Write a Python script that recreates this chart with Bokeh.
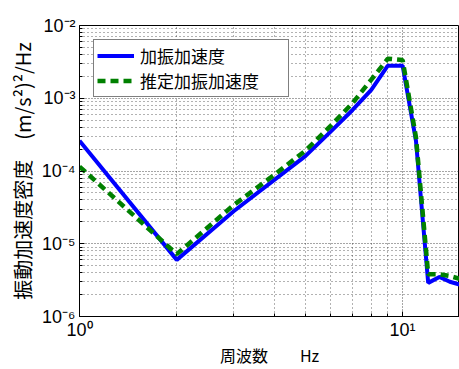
from bokeh.plotting import figure
from bokeh.models import FixedTicker, CustomJSTickFormatter, Legend, LegendItem, Range1d
from bokeh.embed import file_html
from bokeh.resources import INLINE

# data
freq = [1, 2, 3, 4, 5, 6, 7, 8, 9, 10, 11, 12, 13, 14, 15]
psd_meas = [2.6e-4, 6.0e-6, 2.8e-5, 7.5e-5, 1.6e-4, 3.5e-4, 6.9e-4, 1.3e-3,
            2.8e-3, 2.8e-3, 2.6e-4, 2.9e-6, 3.5e-6, 3.0e-6, 2.75e-6]
psd_est = [1.15e-4, 7.2e-6, 3.4e-5, 8.8e-5, 1.9e-4, 4.2e-4, 8.6e-4, 1.8e-3,
           3.5e-3, 3.35e-3, 2.9e-4, 3.8e-6, 3.8e-6, 3.6e-6, 3.3e-6]
label_meas = "加振加速度"
label_est = "推定加振加速度"
x_major = [1, 10]
x_minor = [2, 3, 4, 5, 6, 7, 8, 9, 20]
y_major = [1e-6, 1e-5, 1e-4, 1e-3, 1e-2]
y_minor = [m * d for d in [1e-6, 1e-5, 1e-4, 1e-3] for m in range(2, 10)]

LATIN = "Liberation Sans, Noto Sans CJK JP"
CJK = "Noto Sans CJK JP, Liberation Sans"

p = figure(width=459, height=369, x_axis_type="log", y_axis_type="log",
           x_range=Range1d(1, 15.0), y_range=Range1d(1e-6, 1e-2),
           output_backend="svg", toolbar_location=None,
           min_border_left=79, min_border_right=0, min_border_top=25, min_border_bottom=51)

p.background_fill_color = "white"
p.border_fill_color = "white"
p.outline_line_color = "black"
p.outline_line_width = 1

r1 = p.line(freq, psd_meas, line_color="#0000ff", line_width=4)
r2 = p.line(freq, psd_est, line_color="#008000", line_width=4.5, line_dash="8 5")

fmt = CustomJSTickFormatter(code="""
const e = Math.round(Math.log10(tick));
const sup = {"-":"\u207b","0":"\u2070","1":"\u00b9","2":"\u00b2","3":"\u00b3","4":"\u2074","5":"\u2075","6":"\u2076","7":"\u2077","8":"\u2078","9":"\u2079"};
return "10" + String(e).split("").map(c => sup[c]).join("");
""")

for ax, maj, mino in [(p.xaxis[0], x_major, x_minor), (p.yaxis[0], y_major, y_minor)]:
    ax.ticker = FixedTicker(ticks=maj, minor_ticks=mino)
    ax.formatter = fmt
    ax.major_label_text_font = LATIN
    ax.major_label_text_font_size = "18px"
    ax.major_label_text_color = "black"
    ax.axis_line_color = "black"
    ax.major_tick_in = 5
    ax.major_tick_out = 0
    ax.minor_tick_in = 3
    ax.minor_tick_out = 0
    ax.axis_label_text_font_style = "normal"
    ax.axis_label_text_color = "black"

p.xaxis.axis_label = "周波数　　Hz"
p.xaxis.axis_label_text_font = CJK
p.xaxis.axis_label_text_font_size = "16px"
p.xaxis.major_label_standoff = 3
p.xaxis.axis_label_standoff = 0
p.yaxis.axis_label = "振動加速度密度　(m/s²)²/Hz"
p.yaxis.axis_label_text_font = CJK
p.yaxis.axis_label_text_font_size = "20px"
p.yaxis.major_label_standoff = 4
p.yaxis.axis_label_standoff = 2

for g in [p.xgrid[0], p.ygrid[0]]:
    g.grid_line_color = "#222222"
    g.grid_line_dash = "1 2"
    g.grid_line_width = 1
    g.grid_line_alpha = 0.8
    g.minor_grid_line_color = "#222222"
    g.minor_grid_line_dash = "1 3"
    g.minor_grid_line_width = 1
    g.minor_grid_line_alpha = 0.7

legend = Legend(items=[LegendItem(label=label_meas, renderers=[r1]),
                       LegendItem(label=label_est, renderers=[r2])],
                location="top_left")
legend.label_text_font = CJK
legend.label_text_font_size = "17px"
legend.label_text_color = "black"
legend.glyph_width = 37
legend.glyph_height = 21
legend.label_height = 21
legend.label_width = 145
legend.label_standoff = 6
legend.padding = 3
legend.spacing = 0
legend.margin = 14
legend.border_line_color = "black"
legend.border_line_width = 1
legend.background_fill_color = "white"
legend.background_fill_alpha = 1
p.add_layout(legend)

open("out.html", "w").write(file_html(p, INLINE))
